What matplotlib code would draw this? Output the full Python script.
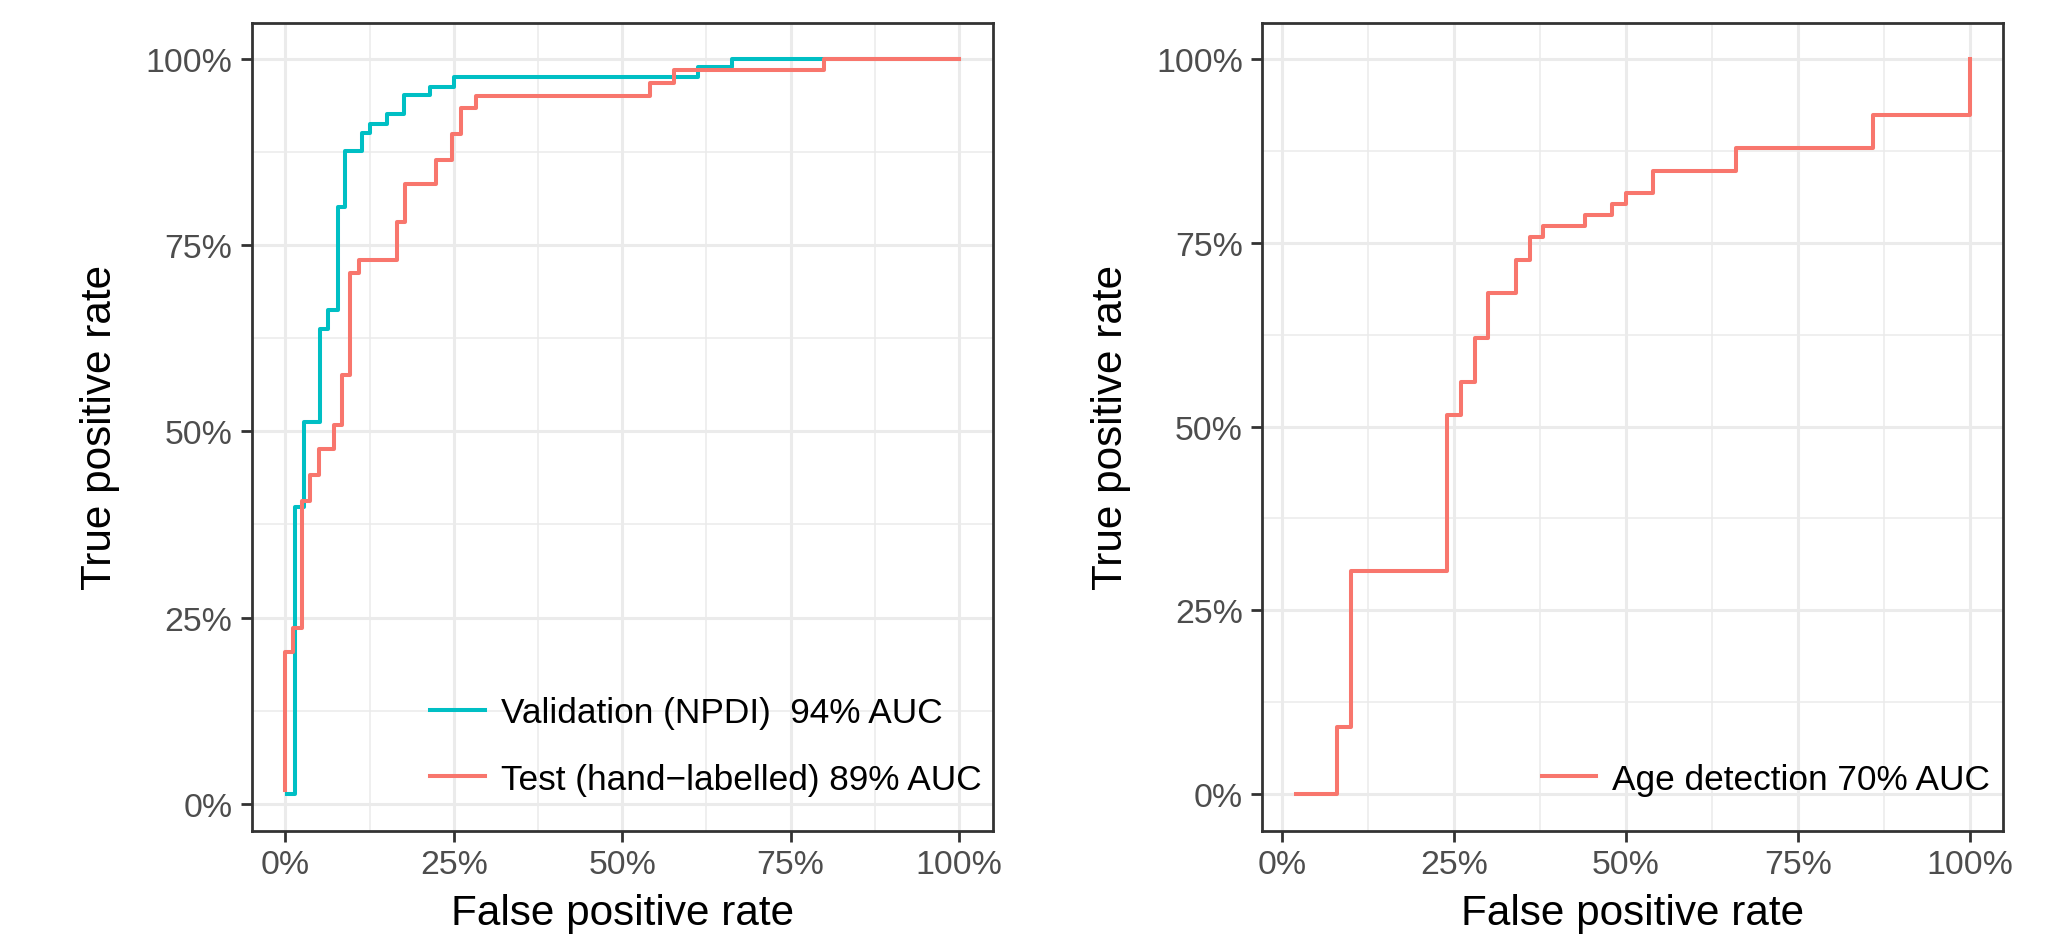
import numpy as np
import matplotlib
matplotlib.use('Agg')
import matplotlib.pyplot as plt
from matplotlib.ticker import FixedLocator, FuncFormatter

# ROC vertices (false positive rate, true positive rate) in percent
val_fpr = [0.3, 1.5, 2.75, 5.2, 6.4, 7.8, 8.9, 11.4, 12.6, 15.1, 17.6, 21.4,
           25.1, 61.3, 66.3, 100]
val_tpr = [1.3, 39.9, 51.3, 63.8, 66.3, 80.1, 87.6, 90.0, 91.3, 92.6, 95.1, 96.3,
           97.6, 98.9, 100, 100]

test_fpr = [0, 0, 1.2, 2.5, 3.7, 5.0, 7.2, 8.4, 9.6, 10.9, 16.6, 17.7, 22.4,
            24.8, 26.0, 28.3, 54.1, 57.7, 80.0, 100]
test_tpr = [1.8, 20.4, 23.6, 40.7, 44.1, 47.6, 50.9, 57.6, 71.2, 73.0, 78.1, 83.2,
            86.5, 89.9, 93.4, 95.0, 96.8, 98.5, 100, 100]

age_fpr = [2, 8, 10, 24, 26, 28, 30, 34, 36, 38, 44, 48, 50, 54, 66, 86, 100]
age_tpr = [0, 9.1, 30.3, 51.5, 56.1, 62.1, 68.2, 72.7, 75.8, 77.3, 78.8, 80.3,
           81.8, 84.8, 87.9, 92.4, 100]

val_label  = 'Validation (NPDI)  94% AUC'
test_label = 'Test (hand\u2212labelled) 89% AUC'
age_label  = 'Age detection 70% AUC'

major = [0, 25, 50, 75, 100]
minor = [12.5, 37.5, 62.5, 87.5]

plt.rcParams['font.family'] = ['Liberation Sans', 'DejaVu Sans']

W, H, dpi = 2066, 937, 200
fig = plt.figure(figsize=(W / dpi, H / dpi), dpi=dpi)

ax1 = fig.add_axes([251.7 / W, (H - 831.5) / H, 741 / W, 808 / H])
ax2 = fig.add_axes([1262.3 / W, (H - 831.5) / H, 741 / W, 808 / H])


def style_axes(ax):
    ax.set_facecolor('white')
    ax.xaxis.set_major_locator(FixedLocator(major))
    ax.yaxis.set_major_locator(FixedLocator(major))
    ax.xaxis.set_minor_locator(FixedLocator(minor))
    ax.yaxis.set_minor_locator(FixedLocator(minor))
    pct = FuncFormatter(lambda v, p: '%d%%' % v)
    ax.xaxis.set_major_formatter(pct)
    ax.yaxis.set_major_formatter(pct)
    ax.grid(which='major', color='#EBEBEB', lw=1.1)
    ax.grid(which='minor', color='#EBEBEB', lw=0.55)
    ax.set_axisbelow(True)
    for s in ax.spines.values():
        s.set_color('#333333')
        s.set_linewidth(1.0)
    ax.tick_params(which='major', length=4, width=1.0, color='#333333',
                   labelsize=12.2, labelcolor='#4D4D4D')
    ax.tick_params(axis='x', pad=2.5)
    ax.tick_params(axis='y', pad=3)
    ax.tick_params(which='minor', length=0)
    ax.set_xlabel('False positive rate', fontsize=15.2, labelpad=5)
    ax.set_ylabel('True positive rate', fontsize=15.2, labelpad=9)


# left panel: validation and test curves
ax1.step(val_fpr, val_tpr, where='post', color='#00BFC4', lw=1.45, label=val_label)
ax1.step(test_fpr, test_tpr, where='post', color='#F8766D', lw=1.45, label=test_label)
ax1.set_xlim(-5, 105)
ax1.set_ylim(-3.6, 104.9)
style_axes(ax1)
ax1.legend(loc='lower right', bbox_to_anchor=(1 - 11 / 741, 0.043), frameon=False,
           fontsize=12.7, handlelength=1.55, handletextpad=0.45, labelspacing=0.95,
           borderpad=0, borderaxespad=0)

# right panel: age detection
ax2.step(age_fpr, age_tpr, where='post', color='#F8766D', lw=1.45, label=age_label)
ax2.set_xlim(-2.9, 104.9)
ax2.set_ylim(-5, 105)
style_axes(ax2)
ax2.legend(loc='lower right', bbox_to_anchor=(1 - 13 / 741, 0.043), frameon=False,
           fontsize=12.7, handlelength=1.55, handletextpad=0.45,
           borderpad=0, borderaxespad=0)

fig.savefig('out.png', dpi=dpi, facecolor='white')
